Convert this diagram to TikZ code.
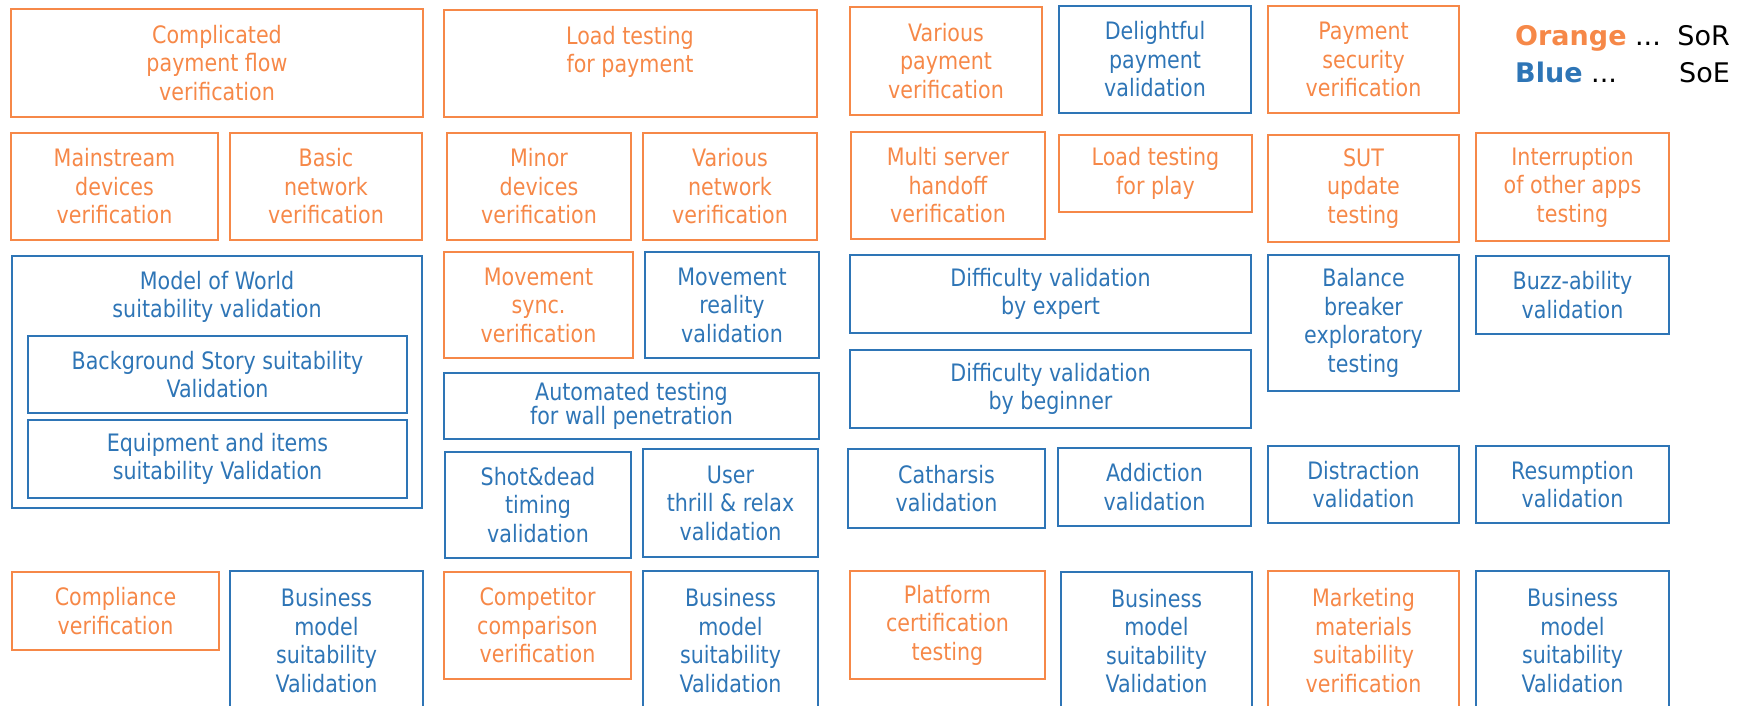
\documentclass[tikz,border=0pt]{standalone}
\usepackage{fontspec}
\setmainfont{DejaVu Sans}
\newfontfamily\boxfont[FakeStretch=0.86]{DejaVu Sans}
\definecolor{sorange}{RGB}{246,136,72}
\definecolor{sblue}{RGB}{46,117,182}
\tikzset{
  cell/.style={draw, line width=2.8pt, inner sep=0pt, align=center,
    font=\boxfont\fontsize{24}{28.5}\selectfont},
  sor/.style={cell, draw=sorange, text=sorange},
  soe/.style={cell, draw=sblue, text=sblue},
  celltext/.style={inner sep=0pt, align=center,
    font=\boxfont\fontsize{24}{28.5}\selectfont},
  legend/.style={inner sep=0pt, font=\fontsize{27}{32}\selectfont},
}
% \cellbox{name}{x1}{y1}{x2}{y2}{style}{text}
\newcommand\cellbox[7]{%
  \node[#6, minimum width={(#4-#2)*1pt}, minimum height={(#5-#3)*1pt}]
    (#1) at ({(#2+#4)/2},{(#3+#5)/2}) {#7};}
\begin{document}
\begin{tikzpicture}[x=1pt,y=-1pt]
\useasboundingbox (0,0) rectangle (1739,706);
\clip (0,0) rectangle (1739,706);

% payment row
\cellbox{pay1}{11}{9}{423}{117}{sor}{Complicated\\payment flow\\verification}
\cellbox{pay2}{444}{10}{817}{117}{sor}{}
\node[celltext, text=sorange] (pay2t) at (630,52) {Load testing\\for payment};
\cellbox{pay3}{850}{7}{1042}{115}{sor}{Various\\payment\\verification}
\cellbox{pay4}{1059}{6}{1251}{113}{soe}{Delightful\\payment\\validation}
\cellbox{pay5}{1268}{6}{1459}{113}{sor}{Payment\\security\\verification}

% devices, network and environment row
\cellbox{dev1}{11}{133}{218}{240}{sor}{Mainstream\\devices\\verification}
\cellbox{net1}{230}{133}{422}{240}{sor}{Basic\\network\\verification}
\cellbox{dev2}{447}{133}{631}{240}{sor}{Minor\\devices\\verification}
\cellbox{net2}{643}{133}{817}{240}{sor}{Various\\network\\verification}
\cellbox{srv}{851}{132}{1045}{239}{sor}{Multi server\\handoff\\verification}
\cellbox{load}{1059}{135}{1252}{212}{sor}{Load testing\\for play}
\cellbox{sut}{1268}{135}{1459}{242}{sor}{SUT\\update\\testing}
\cellbox{intr}{1476}{133}{1669}{241}{sor}{Interruption\\of other apps\\testing}

% world model and game play
\cellbox{world}{12}{256}{422}{508}{soe}{}
\node[celltext, text=sblue] (worldt) at (217,297) {Model of World\\suitability validation};
\cellbox{story}{28}{336}{407}{413}{soe}{Background Story suitability\\Validation}
\cellbox{equip}{28}{420}{407}{498}{soe}{Equipment and items\\suitability Validation}
\cellbox{msync}{444}{252}{633}{358}{sor}{Movement\\sync.\\verification}
\cellbox{mreal}{645}{252}{819}{358}{soe}{Movement\\reality\\validation}
\cellbox{wall}{444}{373}{819}{439}{soe,font=\boxfont\fontsize{24}{22}\selectfont}{Automated testing\\for wall penetration}
\cellbox{shot}{445}{452}{631}{558}{soe}{Shot\&dead\\timing\\validation}
\cellbox{thrill}{643}{449}{818}{557}{soe}{User\\thrill \& relax\\validation}
\cellbox{diffx}{850}{255}{1251}{333}{soe}{Difficulty validation\\by expert}
\cellbox{diffb}{850}{350}{1251}{428}{soe}{Difficulty validation\\by beginner}
\cellbox{bal}{1268}{255}{1459}{391}{soe}{Balance\\breaker\\exploratory\\testing}
\cellbox{buzz}{1476}{256}{1669}{334}{soe}{Buzz-ability\\validation}

% experience row
\cellbox{cath}{848}{449}{1045}{528}{soe}{Catharsis\\validation}
\cellbox{addi}{1058}{448}{1251}{526}{soe}{Addiction\\validation}
\cellbox{dist}{1268}{446}{1459}{523}{soe}{Distraction\\validation}
\cellbox{resu}{1476}{446}{1669}{523}{soe}{Resumption\\validation}

% business row
\cellbox{comp}{12}{572}{219}{650}{sor}{Compliance\\verification}
\cellbox{biz1}{230}{571}{423}{710}{soe}{Business\\model\\suitability\\Validation}
\cellbox{cmpt}{444}{572}{631}{679}{sor}{Competitor\\comparison\\verification}
\cellbox{biz2}{643}{571}{818}{710}{soe}{Business\\model\\suitability\\Validation}
\cellbox{plat}{850}{571}{1045}{679}{sor}{Platform\\certification\\testing}
\cellbox{biz3}{1061}{572}{1252}{710}{soe}{Business\\model\\suitability\\Validation}
\cellbox{mkt}{1268}{571}{1459}{710}{sor}{Marketing\\materials\\suitability\\verification}
\cellbox{biz4}{1476}{571}{1669}{710}{soe}{Business\\model\\suitability\\Validation}

% legend
\node[legend, anchor=base west] (lgor) at (1515,46) {\textcolor{sorange}{\bfseries Orange} ...};
\node[legend, anchor=base east] (lgsor) at (1730,46) {SoR};
\node[legend, anchor=base west] (lgbl) at (1515,83) {\textcolor{sblue}{\bfseries Blue} ...};
\node[legend, anchor=base east] (lgsoe) at (1730,83) {SoE};
\end{tikzpicture}
\end{document}
